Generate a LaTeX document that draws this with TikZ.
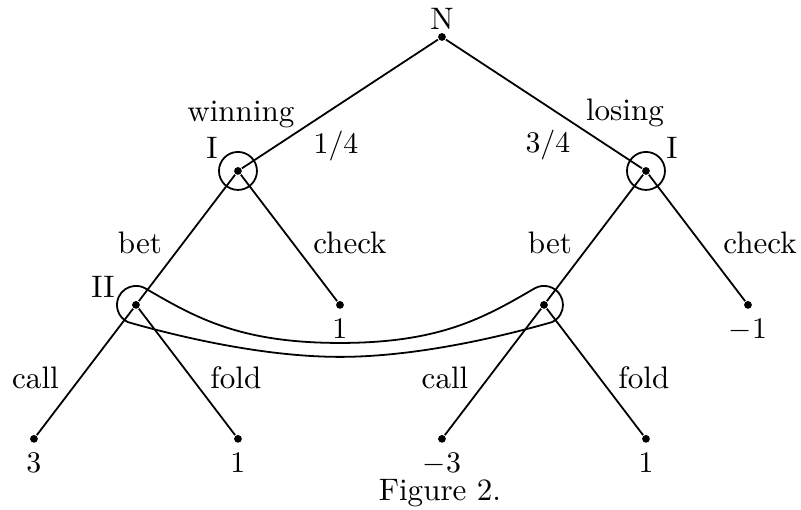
\documentclass[tikz,border=0pt]{standalone}
\usepackage{tikz}
\usetikzlibrary{positioning,calc}

\tikzset{
  dot/.style={circle,fill,inner sep=0pt,minimum size=2.6pt},
  lbl/.style={inner sep=0pt},
  pay/.style={inner sep=0pt,below=3pt of #1},
}
\newcommand{\isetr}{0.2235cm}

\begin{document}
\begin{tikzpicture}[x=1.2cm,y=1.576cm,line width=0.6pt,font=\fontsize{10.4}{12.5}\selectfont]
    \useasboundingbox (-4.333,-3.530) rectangle (3.520,0.276);

    % Nature
    \node [dot] (n) at (0,0) {};
    \node [lbl] (nlab) at (0,0.134) {N};

    % Player I
    \node [dot] (i1) at (-2,-1) {};
    \node [dot] (i2) at (2,-1) {};
    \draw (i1.center) circle [radius=\isetr];
    \draw (i2.center) circle [radius=\isetr];
    \node [lbl] (i1lab) at (-2.255,-0.828) {I};
    \node [lbl] (i2lab) at (2.255,-0.828) {I};
    \draw (n) -- (i1);
    \draw (n) -- (i2);
    \node [lbl] (win) at (-1.971,-0.575) {winning};
    \node [lbl] (lose) at (1.794,-0.565) {losing};
    \node [lbl] (pwin) at (-1.039,-0.813) {$1/4$};
    \node [lbl] (plose) at (1.039,-0.806) {$3/4$};

    % Player II and checks
    \node [dot] (ii1) at (-3,-2) {};
    \node [dot] (c1) at (-1,-2) {};
    \node [dot] (ii2) at (1,-2) {};
    \node [dot] (c2) at (3,-2) {};
    \draw (i1) -- (ii1);
    \draw (i1) -- (c1);
    \draw (i2) -- (ii2);
    \draw (i2) -- (c2);
    \node [lbl] (bet1) at (-2.961,-1.534) {bet};
    \node [lbl] (chk1) at (-0.902,-1.534) {check};
    \node [lbl] (bet2) at (1.059,-1.534) {bet};
    \node [lbl] (chk2) at (3.118,-1.534) {check};
    \node [lbl] (iilab) at (-3.324,-1.866) {II};
    \node [pay=c1] (c1pay) {$1$};
    \node [pay=c2] (c2pay) {$-1$};

    % information set of II
    \draw ($(ii1.center)+(60:\isetr)$) .. controls (-2.412,-2.097) and (-1.980,-2.284) .. (-1,-2.284)
        .. controls (-0.020,-2.284) and (0.412,-2.097) .. ($(ii2.center)+(120:\isetr)$)
        arc [start angle=120,end angle=-65,radius=\isetr]
        .. controls (0.471,-2.261) and (-0.314,-2.388) .. (-1,-2.388)
        .. controls (-1.686,-2.388) and (-2.471,-2.261) .. ($(ii1.center)+(245:\isetr)$)
        arc [start angle=245,end angle=60,radius=\isetr] -- cycle;

    % Player II moves
    \node [dot] (t1) at (-4,-3) {};
    \node [dot] (t2) at (-2,-3) {};
    \node [dot] (t3) at (0,-3) {};
    \node [dot] (t4) at (2,-3) {};
    \draw (ii1) -- (t1);
    \draw (ii1) -- (t2);
    \draw (ii2) -- (t3);
    \draw (ii2) -- (t4);
    \node [lbl] (call1) at (-3.985,-2.545) {call};
    \node [lbl] (fold1) at (-2.02,-2.545) {fold};
    \node [lbl] (call2) at (0.03,-2.545) {call};
    \node [lbl] (fold2) at (1.98,-2.545) {fold};
    \node [pay=t1] (t1pay) {$3$};
    \node [pay=t2] (t2pay) {$1$};
    \node [pay=t3] (t3pay) {$-3$};
    \node [pay=t4] (t4pay) {$1$};

    \node [lbl] (cap) at (-0.02,-3.403) {Figure 2.};
\end{tikzpicture}
\end{document}
